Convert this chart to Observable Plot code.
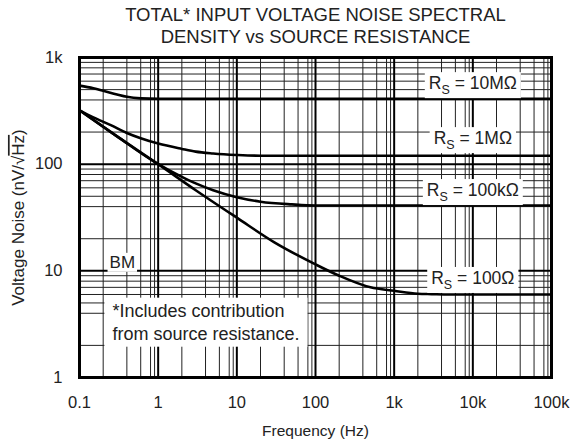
<!DOCTYPE html>
<html><head><meta charset="utf-8">
<script src="https://cdn.jsdelivr.net/npm/d3@7"></script>
<script src="https://cdn.jsdelivr.net/npm/@observablehq/plot@0.6"></script>
<style>
html,body{margin:0;padding:0;background:#fff;}
</style>
</head><body><div id="chart"></div>
<script>
// ---- tick values and labels ----
const xTicks = [0.1, 1, 10, 100, 1000, 10000, 100000];
const xTickLabels = ["0.1", "1", "10", "100", "1k", "10k", "100k"];
const yTicks = [1, 10, 100, 1000];
const yTickLabels = ["1", "10", "100", "1k"];
const xMinorSteps = [2, 4, 6, 8, 9];
const yMinorSteps = [2, 4, 5, 6, 7, 8, 9];

// ---- series ----
const seriesNames = ["10MΩ", "1MΩ", "100kΩ", "100Ω"];
const freq10M  = [0.1, 0.15, 0.2, 0.3, 0.4, 0.6, 1, 2, 10, 100, 1000, 10000, 100000];
const noise10M = [545, 515, 488, 450, 428, 414, 410, 410, 410, 410, 410, 410, 410];
const freq1M   = [0.1, 0.15, 0.25, 0.4, 0.6, 1, 2, 3, 5, 10, 20, 100, 1000, 10000, 100000];
const noise1M  = [320, 275, 232, 196, 175, 156, 139, 131, 126, 122, 120, 120, 120, 120, 120];
const freq100k = [0.1, 0.3, 1, 2, 3, 5, 10, 20, 50, 100, 1000, 10000, 100000];
const noise100k= [320, 182, 100, 76, 66, 57, 49, 44.5, 42, 41, 41, 41, 41];
const freq100  = [0.1, 0.3, 1, 3, 10, 30, 100, 200, 500, 1000, 2000, 3000, 5000, 10000, 100000];
const noise100 = [320, 182, 100, 57, 31.5, 18.5, 11.5, 9, 7, 6.5, 6.1, 6.05, 6, 6, 6];

// ---- annotation labels ----
const labelFreq  = [10000, 10000, 10000, 10000];
const labelNoise = [570, 174, 56.7, 8.5];

const titleLines = ["TOTAL* INPUT VOLTAGE NOISE SPECTRAL", "DENSITY vs SOURCE RESISTANCE"];
const xLabel = "Frequency (Hz)";
const yLabel = "Voltage Noise (nV/√Hz)";
const noteText = "*Includes contribution\nfrom source resistance.";
const bmText = "BM";

// ---- build tables ----
const seriesFreq = [freq10M, freq1M, freq100k, freq100];
const seriesNoise = [noise10M, noise1M, noise100k, noise100];
const rows = seriesNames.flatMap((s, k) => seriesFreq[k].map((f, i) => ({s, f, v: seriesNoise[k][i]})));
const labelRows = seriesNames.map((name, i) => ({name, f: labelFreq[i], v: labelNoise[i]}));
const xMinor = xTicks.slice(0, -1).flatMap(d => xMinorSteps.map(m => +(d * m).toPrecision(6)));
const yMinor = yTicks.slice(0, -1).flatMap(d => yMinorSteps.map(m => d * m));

const font = "'Liberation Sans', Arial, Helvetica, sans-serif";

const chart = Plot.plot({
  width: 571,
  height: 447,
  marginLeft: 79,
  marginRight: 20,
  marginTop: 57,
  marginBottom: 70,
  x: {type: "log", domain: [0.1, 100000]},
  y: {type: "log", domain: [1, 1000]},
  style: {fontFamily: font, fontSize: "16px", background: "#fff", color: "#222"},
  marks: [
    Plot.ruleX(xMinor, {stroke: "#222", strokeWidth: 1}),
    Plot.ruleY(yMinor, {stroke: "#222", strokeWidth: 1}),
    Plot.ruleX(xTicks, {stroke: "#000", strokeWidth: 2}),
    Plot.ruleY(yTicks, {stroke: "#000", strokeWidth: 2}),
    Plot.line(rows, {x: "f", y: "v", z: "s", stroke: "#000", strokeWidth: 2.6, curve: "monotone-x"}),
    Plot.frame({stroke: "#000", strokeWidth: 3}),
    Plot.axisX(xTicks, {tickSize: 0, tickPadding: 19, fontSize: 16.5, fill: "#222",
      tickFormat: d => xTickLabels[xTicks.indexOf(d)], label: null}),
    Plot.axisY(yTicks, {tickSize: 0, tickPadding: 17, fontSize: 16.5, fill: "#222",
      tickFormat: d => yTickLabels[yTicks.indexOf(d)], label: null}),
    Plot.text(labelRows, {x: "f", y: "v", text: d => d.name, fontSize: 17.5, fill: "#222",
      textAnchor: "middle", ariaDescription: "rs-label"}),
    Plot.text([bmText], {x: [0.35], y: [12], text: d => d, fontSize: 17, fill: "#222",
      textAnchor: "middle", ariaDescription: "bm-label"}),
    Plot.text([noteText], {x: [0.262], y: [3.4], text: d => d, fontSize: 18, fill: "#222",
      textAnchor: "start", lineHeight: 1.28, ariaDescription: "note-label"}),
    Plot.text([titleLines[0]], {frameAnchor: "top", dy: -50, text: d => d, fontSize: 18.5, fill: "#222"}),
    Plot.text([titleLines[1]], {frameAnchor: "top", dy: -28, text: d => d, fontSize: 18.5, fill: "#222"}),
    Plot.text([xLabel], {frameAnchor: "bottom", dy: 58, text: d => d, fontSize: 15.5, fill: "#222"}),
    Plot.text([yLabel], {frameAnchor: "left", dx: -61, rotate: -90, textAnchor: "middle", text: d => d,
      fontSize: 17, fill: "#222", ariaDescription: "y-label"})
  ]
});
document.getElementById("chart").appendChild(chart);

const svgNS = "http://www.w3.org/2000/svg";
function tspan(parent, txt, attrs) {
  const t = document.createElementNS(svgNS, "tspan");
  t.textContent = txt;
  for (const k in attrs) t.setAttribute(k, attrs[k]);
  parent.appendChild(t);
  return t;
}
function texts(name) {
  return Array.from(chart.querySelectorAll(`[aria-description="${name}"] text`));
}
// subscript R_S labels
texts("rs-label").forEach(t => {
  const name = t.textContent;
  t.textContent = "";
  tspan(t, "R", {});
  tspan(t, "S", {"font-size": "12.5", dy: "5"});
  tspan(t, " = " + name, {dy: "-5"});
});
// overline on Hz in y label
texts("y-label").forEach(t => {
  t.textContent = "";
  tspan(t, "Voltage Noise (nV/√", {});
  tspan(t, "Hz", {style: "text-decoration: overline"});
  tspan(t, ")", {});
});
// white boxes behind annotations
function boxes(name, px, py) {
  texts(name).forEach(t => {
    const b = t.getBBox();
    const r = document.createElementNS(svgNS, "rect");
    r.setAttribute("x", b.x - px);
    r.setAttribute("y", b.y - py);
    r.setAttribute("width", b.width + 2 * px);
    r.setAttribute("height", b.height + 2 * py);
    r.setAttribute("fill", "#fff");
    if (t.getAttribute("transform")) r.setAttribute("transform", t.getAttribute("transform"));
    t.parentNode.insertBefore(r, t);
  });
}
boxes("rs-label", 4, 1);
boxes("bm-label", 2, 0);
boxes("note-label", 8, 3);
</script>
</body></html>
